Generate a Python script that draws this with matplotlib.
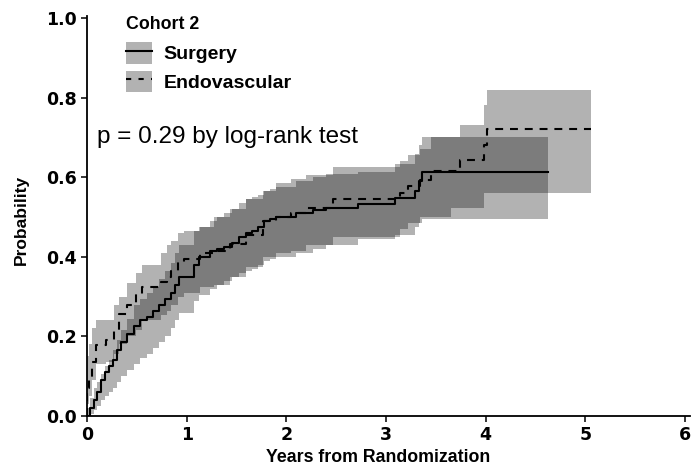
import numpy as np
import matplotlib
matplotlib.use("Agg")
import matplotlib.pyplot as plt
from matplotlib.patches import Patch
from matplotlib.lines import Line2D

plt.rcParams["font.family"] = ["Liberation Sans", "DejaVu Sans"]

# cumulative incidence
surg_t  = [0, 0.03, 0.07, 0.10, 0.14, 0.18, 0.22, 0.26, 0.30, 0.34, 0.40, 0.47, 0.53, 0.60,
           0.66, 0.72, 0.78, 0.84, 0.88, 0.92, 1.07, 1.12, 1.23, 1.30, 1.37, 1.45, 1.53, 1.60,
           1.66, 1.72, 1.78, 1.84, 1.90, 2.10, 2.27, 2.40, 2.72, 3.09, 3.29, 3.33, 3.36, 4.63]
surg_est = [0, 0.02, 0.04, 0.06, 0.09, 0.11, 0.125, 0.14, 0.165, 0.185, 0.205, 0.225, 0.24, 0.25,
            0.265, 0.28, 0.295, 0.31, 0.33, 0.35, 0.38, 0.40, 0.415, 0.42, 0.425, 0.435, 0.45, 0.46,
            0.465, 0.475, 0.49, 0.495, 0.50, 0.51, 0.517, 0.523, 0.532, 0.547, 0.565, 0.59, 0.612, 0.612]
surg_lo = [0, 0.005, 0.015, 0.025, 0.04, 0.05, 0.06, 0.07, 0.085, 0.10, 0.115, 0.13, 0.145, 0.155,
           0.17, 0.185, 0.20, 0.22, 0.24, 0.26, 0.29, 0.305, 0.32, 0.33, 0.34, 0.35, 0.36, 0.365,
           0.37, 0.38, 0.39, 0.395, 0.40, 0.41, 0.42, 0.43, 0.445, 0.455, 0.475, 0.485, 0.495, 0.495]
surg_hi = [0.02, 0.045, 0.07, 0.085, 0.105, 0.125, 0.14, 0.165, 0.19, 0.215, 0.245, 0.28, 0.295, 0.31,
           0.325, 0.345, 0.365, 0.385, 0.41, 0.43, 0.465, 0.475, 0.49, 0.50, 0.51, 0.52, 0.535, 0.545,
           0.55, 0.555, 0.565, 0.57, 0.575, 0.59, 0.60, 0.607, 0.613, 0.632, 0.657, 0.68, 0.70, 0.70]

endo_t   = [0, 0.005, 0.02, 0.05, 0.09, 0.19, 0.27, 0.32, 0.40, 0.49, 0.55, 0.74, 0.80, 0.84,
            0.91, 0.97, 1.13, 1.27, 1.43, 1.60, 1.77, 1.90, 2.05, 2.20, 2.47, 3.14, 3.22, 3.34,
            3.45, 3.65, 3.74, 3.98, 4.01, 5.06]
endo_est = [0, 0.07, 0.09, 0.136, 0.178, 0.19, 0.215, 0.257, 0.28, 0.307, 0.323, 0.336, 0.35, 0.365,
            0.386, 0.395, 0.41, 0.415, 0.432, 0.455, 0.49, 0.50, 0.51, 0.523, 0.544, 0.56, 0.577, 0.594,
            0.615, 0.615, 0.642, 0.68, 0.72, 0.72]
endo_lo  = [0, 0.03, 0.05, 0.09, 0.13, 0.135, 0.155, 0.18, 0.20, 0.215, 0.24, 0.255, 0.265, 0.28,
            0.30, 0.31, 0.325, 0.33, 0.35, 0.375, 0.40, 0.41, 0.415, 0.43, 0.45, 0.47, 0.485, 0.50,
            0.50, 0.523, 0.523, 0.56, 0.56, 0.56]
endo_hi  = [0.03, 0.15, 0.18, 0.22, 0.24, 0.24, 0.28, 0.30, 0.335, 0.36, 0.38, 0.41, 0.43, 0.44,
            0.46, 0.465, 0.475, 0.50, 0.52, 0.545, 0.565, 0.585, 0.595, 0.605, 0.625, 0.64, 0.655, 0.67,
            0.70, 0.70, 0.73, 0.78, 0.82, 0.82]

groups = ["Surgery", "Endovascular"]
x_ticks = [0, 1, 2, 3, 4, 5, 6]
y_ticks = [0.0, 0.2, 0.4, 0.6, 0.8, 1.0]
DASH = (0, (3.8, 3.3))

fig = plt.figure(figsize=(6.93, 4.68), dpi=100)
ax = fig.add_axes([0.1255, 0.111, 0.8702, 0.855])

band = dict(color="black", alpha=0.3, linewidth=0, step="post")
ax.fill_between(surg_t, surg_lo, surg_hi, **band)
ax.fill_between(endo_t, endo_lo, endo_hi, **band)
ax.step(surg_t, surg_est, where="post", color="black", lw=1.5)
ax.step(endo_t, endo_est, where="post", color="black", lw=1.5, linestyle=DASH)

ax.text(0.1, 0.70, "p = 0.29 by log-rank test", fontsize=17.5, va="center", ha="left")

ax.set_xlim(0, 6.05)
ax.set_ylim(0, 1.005)
ax.set_xticks(x_ticks)
ax.set_yticks(y_ticks)
ax.set_yticklabels([f"{v:.1f}" for v in y_ticks])
for s in ["top", "right"]:
    ax.spines[s].set_visible(False)
for s in ["left", "bottom"]:
    ax.spines[s].set_linewidth(1.3)
ax.tick_params(direction="out", length=4, width=1.1, labelsize=12.5, pad=3)
for lab in ax.get_xticklabels() + ax.get_yticklabels():
    lab.set_fontweight("bold")
    lab.set_fontfamily("DejaVu Sans")
ax.set_xlabel("Years from Randomization", fontsize=12.8, fontweight="bold")
ax.set_ylabel("Probability", fontsize=12.5, fontweight="bold")
ax.xaxis.set_label_coords(0.482, -0.083)
ax.yaxis.set_label_coords(-0.096, 0.49)

handles = [(Patch(facecolor="black", alpha=0.3, lw=0), Line2D([], [], color="black", lw=1.5)),
           (Patch(facecolor="black", alpha=0.3, lw=0),
            Line2D([], [], color="black", lw=1.5, linestyle=(0, (2.5, 3.5))))]
leg = ax.legend(handles, groups, title="Cohort 2", loc="upper left",
                bbox_to_anchor=(0.0414, 1.035), frameon=False, fontsize=14,
                title_fontproperties={"weight": "bold", "size": 12.8},
                handlelength=1.34, handleheight=1.32, handletextpad=0.62,
                labelspacing=0.36, borderpad=0.2)
leg._legend_box.align = "left"
leg._legend_box.sep = 7
for t in leg.get_texts():
    t.set_fontweight("bold")

fig.savefig("out.png", dpi=100)
